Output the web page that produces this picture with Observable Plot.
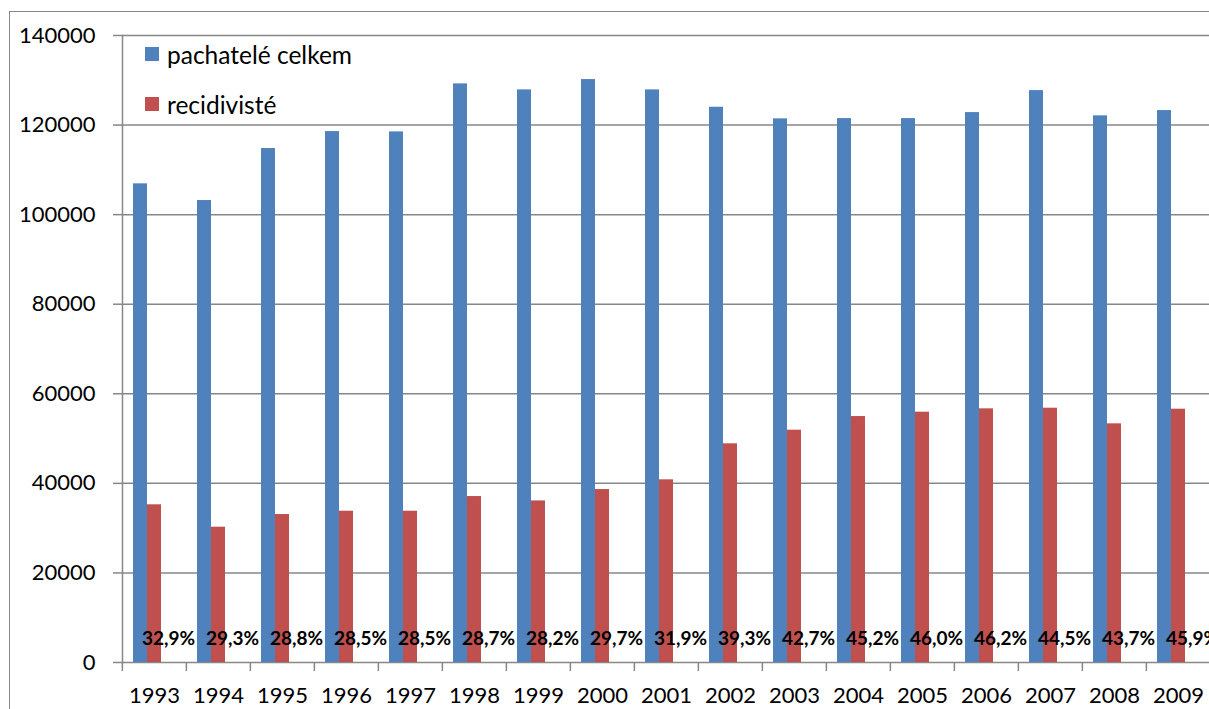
<!DOCTYPE html>
<html>
<head>
<meta charset="utf-8">
<script src="https://cdn.jsdelivr.net/npm/d3@7"></script>
<script src="https://cdn.jsdelivr.net/npm/@observablehq/plot@0.6"></script>
<style>
  html, body { margin: 0; padding: 0; background: #fff; width: 1209px; height: 709px; overflow: hidden; }
  #wrap { position: relative; width: 1209px; height: 709px; overflow: hidden; }
  #chart { position: absolute; left: 0; top: 0; }
  #border { position: absolute; left: 9px; top: 11px; width: 1300px; height: 800px; border: 1.5px solid #878787; box-sizing: border-box; pointer-events: none; }
  #legend { position: absolute; left: 145px; top: 29px; font-family: Lato, sans-serif; font-size: 24.5px; color: #000; }
  #legend .item { display: flex; align-items: center; height: 50px; }
  #legend .sw { width: 14px; height: 14px; margin-right: 8px; }
</style>
</head>
<body>
<div id="wrap">
  <div id="chart"></div>
  <div id="legend"></div>
  <div id="border"></div>
</div>
<script>
const years = ["1993","1994","1995","1996","1997","1998","1999","2000","2001","2002","2003","2004","2005","2006","2007","2008","2009"];
const pachatele = [106880,103150,114760,118550,118480,129200,127860,130160,127860,123980,121390,121450,121450,122790,127700,122060,123240];
const recidiviste = [35210,30210,33040,33780,33780,37060,36080,38620,40790,48830,51870,54920,55890,56640,56780,53290,56560];
const podil = [32.9,29.3,28.8,28.5,28.5,28.7,28.2,29.7,31.9,39.3,42.7,45.2,46.0,46.2,44.5,43.7,45.9];
const seriesNames = ["pachatelé celkem", "recidivisté"];
const seriesColors = ["#4F81BD", "#C0504D"];
const yTicks = [0, 20000, 40000, 60000, 80000, 100000, 120000, 140000];

const bars = years.flatMap((yr, i) => [
  {year: yr, series: seriesNames[0], value: pachatele[i]},
  {year: yr, series: seriesNames[1], value: recidiviste[i]}
]);
const fmtPct = v => d3.format(".1f")(v).replace(".", ",") + "%";
const pctData = years.map((yr, i) => ({year: yr, series: "podíl", label: fmtPct(podil[i])}));

const W = 1212, ML = 120;
const bandHalf = (W - ML) / years.length / 2;
const gray = "#878787";

const chart = Plot.plot({
  width: W, height: 709,
  marginLeft: ML, marginRight: 0, marginTop: 35, marginBottom: 47,
  style: {fontFamily: "Lato, sans-serif", fontSize: "22px", color: "#000", background: "transparent", maxWidth: "none", overflow: "visible"},
  fx: {domain: years, padding: 0, label: null},
  x: {domain: [...seriesNames, "podíl"], paddingInner: 0, paddingOuter: 0.745, axis: null},
  y: {domain: [0, 140000], label: null},
  color: {domain: seriesNames, range: seriesColors},
  marks: [
    Plot.gridY(yTicks, {stroke: gray, strokeOpacity: 1, strokeWidth: 1.5}),
    Plot.barY(bars, {fx: "year", x: "series", y: "value", fill: "series"}),
    Plot.frame({anchor: "left", facetAnchor: "left", stroke: gray, strokeWidth: 1.5}),
    Plot.axisY(yTicks, {tickSize: 9, tickPadding: 18, tickFormat: d3.format("d"), stroke: gray, strokeWidth: 1.5, label: null, fontSize: 22}),
    Plot.axisFx({anchor: "bottom", tickSize: 0, tickPadding: 25, label: null, fontSize: 22}),
    Plot.axisFx({anchor: "bottom", tickSize: 9, tickFormat: () => "", dx: -bandHalf, stroke: gray, strokeWidth: 1.5, label: null}),
    Plot.text(pctData, {fx: "year", x: "series", text: "label", frameAnchor: "bottom", lineAnchor: "middle", dy: -24, fontWeight: "bold", fontSize: 19, fill: "#000"})
  ]
});
document.getElementById("chart").appendChild(chart);

const legend = document.getElementById("legend");
seriesNames.forEach((name, i) => {
  const item = document.createElement("div");
  item.className = "item";
  const sw = document.createElement("div");
  sw.className = "sw";
  sw.style.background = seriesColors[i];
  const t = document.createElement("span");
  t.textContent = name;
  item.appendChild(sw);
  item.appendChild(t);
  legend.appendChild(item);
});
</script>
</body>
</html>
